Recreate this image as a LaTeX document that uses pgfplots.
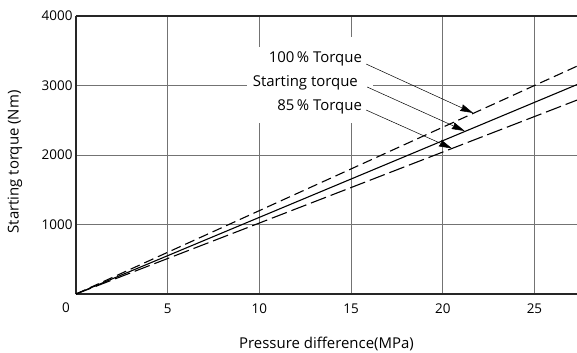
\documentclass[border=0pt]{standalone}
\usepackage{pgfplots}
\pgfplotsset{compat=1.18}
\usepackage{fontspec}
\setmainfont{Open Sans}
\usetikzlibrary{arrows.meta}

\begin{document}
\begin{tikzpicture}
\begin{axis}[
    name=ax,
    scale only axis,
    width=501bp, height=278bp,
    xmin=0, xmax=27.32,
    ymin=0, ymax=4000,
    xtick={5,10,15,20,25},
    ytick={1000,2000,3000,4000},
    axis x line=box, axis y line=left,
    axis line style={-, line width=1.1pt, black!85},
    major tick length=0pt,
    grid=major,
    major grid style={line width=0.8pt, black!55},
    ticklabel style={font=\fontsize{13.5}{16}\selectfont},
    /pgf/number format/assume math mode=true,
    /pgf/number format/1000 sep={},
    xticklabel style={yshift=-6bp},
    xlabel={Pressure difference(MPa)},
    ylabel={Starting torque (Nm)},
    every axis x label/.style={at={(rel axis cs:0.5,-0.18)}, anchor=center,
        font=\fontsize{15}{18}\selectfont},
    every axis y label/.style={at={(rel axis cs:-0.1218,0.475)}, anchor=center, rotate=90,
        font=\fontsize{15}{18}\selectfont},
    clip=false,
]

%-- 100% torque
\addplot[black, line width=1.1pt, dash pattern=on 10bp off 5bp]
coordinates {(0,0) (27.32,3278)};

%-- starting torque
\addplot[black, line width=1.1pt]
coordinates {(0,0) (27.32,3013)};

%-- 85% torque
\addplot[black, line width=1.1pt, dash pattern=on 16bp off 5bp]
coordinates {(0,0) (27.32,2790)};

% white boxes behind the labels
\fill[white] (axis cs:10.15,2460) rectangle (axis cs:16.2,3698);
\fill[white] (axis cs:9.33,2460) rectangle (axis cs:16.2,3554);

\node[anchor=east, inner sep=0, font=\fontsize{15}{18}\selectfont] at (axis cs:15.6,3381) {100\,\% Torque};
\node[anchor=east, inner sep=0, font=\fontsize{15}{18}\selectfont] at (axis cs:15.38,3036) {Starting torque};
\node[anchor=east, inner sep=0, font=\fontsize{15}{18}\selectfont] at (axis cs:15.6,2690) {85\,\% Torque};

\draw[-{Stealth[length=13bp,width=7bp,inset=1bp]}, line width=0.5pt]
    (axis cs:15.82,3309) -- (axis cs:21.66,2604);
\draw[-{Stealth[length=13bp,width=7bp,inset=1bp]}, line width=0.5pt]
    (axis cs:15.88,2978) -- (axis cs:21.2,2345);
\draw[-{Stealth[length=13bp,width=7bp,inset=1bp]}, line width=0.5pt]
    (axis cs:15.82,2647) -- (axis cs:20.5,2095);

\node[anchor=north east, inner sep=0, font=\fontsize{13.5}{16}\selectfont] at (axis cs:0,0) [xshift=-6bp, yshift=-9bp] {0};
\end{axis}
\pgfresetboundingbox
\path[use as bounding box] ([xshift=-76bp,yshift=-59bp]ax.south west) rectangle ([yshift=16bp]ax.north east);
\end{tikzpicture}
\end{document}
